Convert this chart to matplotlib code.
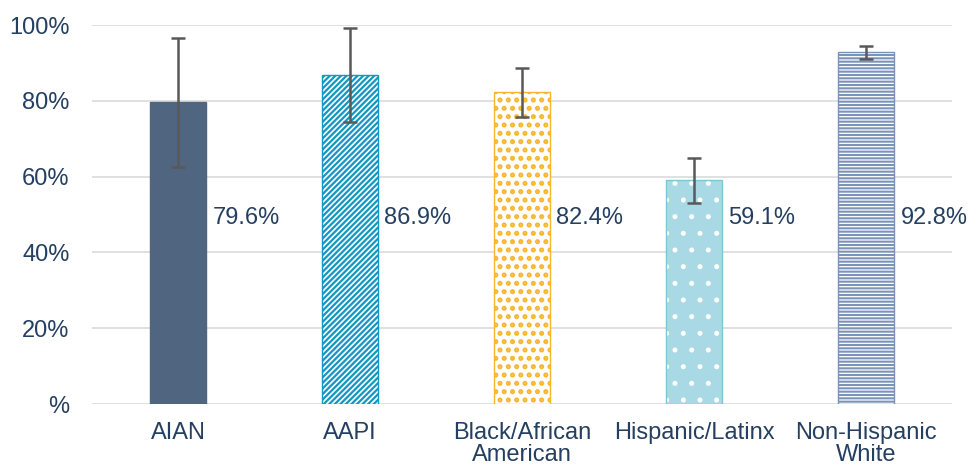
import matplotlib.pyplot as plt
from matplotlib.ticker import FuncFormatter

categories = ["AIAN", "AAPI", "Black/African\nAmerican", "Hispanic/Latinx", "Non-Hispanic\nWhite"]
values = [79.6, 86.9, 82.4, 59.1, 92.8]
err_low = [62.5, 74.4, 75.7, 53.0, 91.0]
err_high = [96.6, 99.2, 88.7, 64.9, 94.5]

plt.rcParams["font.family"] = ["Liberation Sans", "DejaVu Sans"]
text_color = "#243F60"

fig = plt.figure(figsize=(9.68, 4.7), dpi=100)
ax = fig.add_axes([0.095, 0.1404, 0.8885, 0.8064])

x = list(range(len(categories)))
w = 0.325

# fill + hatch, then a separate outline
fills = ["#4F6580", "white", "white", "#A9D9E4", "white"]
hatch_cols = ["#4F6580", "#1297C3", "#F7B52C", "white", "#7B93B9"]
hatches = [None, "//////", "..", ".", "-----"]
hatch_lw = [1.0, 1.6, 2.4, 1.2, 1.5]
edges = ["#4F6580", "#1297C3", "#F7B52C", "#7CC6D8", "#7B93B9"]

for i in x:
    plt.rcParams["hatch.linewidth"] = hatch_lw[i]
    ax.bar(i, values[i], width=w, color=fills[i], edgecolor=hatch_cols[i],
           hatch=hatches[i], linewidth=0, zorder=2)
    ax.bar(i, values[i], width=w, facecolor="none", edgecolor=edges[i],
           linewidth=1.0, zorder=3)

yerr = [[v - lo for v, lo in zip(values, err_low)], [hi - v for v, hi in zip(values, err_high)]]
ax.errorbar(x, values, yerr=yerr, fmt="none", ecolor="#595959", elinewidth=1.8,
            capsize=5, capthick=1.8, zorder=4)

for i in x:
    ax.text(i + 0.395, 49.0, f"{values[i]:.1f}%", ha="center", va="center",
            fontsize=17, color=text_color, zorder=5)

ax.set_xlim(-0.5, 4.5)
ax.set_ylim(0, 100)
ax.set_yticks([0, 20, 40, 60, 80, 100])
ax.yaxis.set_major_formatter(FuncFormatter(lambda v, p: "%" if v == 0 else f"{v:.0f}%"))
ax.set_xticks(x)
ax.set_xticklabels(categories, linespacing=1.0)
ax.grid(axis="y", color="#DDDDDD", linewidth=1.3, zorder=0)
ax.set_axisbelow(True)
for s in ax.spines.values():
    s.set_visible(False)
ax.tick_params(axis="both", length=0, labelsize=17, labelcolor=text_color)
ax.tick_params(axis="y", pad=16)
ax.tick_params(axis="x", pad=13)

fig.savefig("out.png", dpi=100)
